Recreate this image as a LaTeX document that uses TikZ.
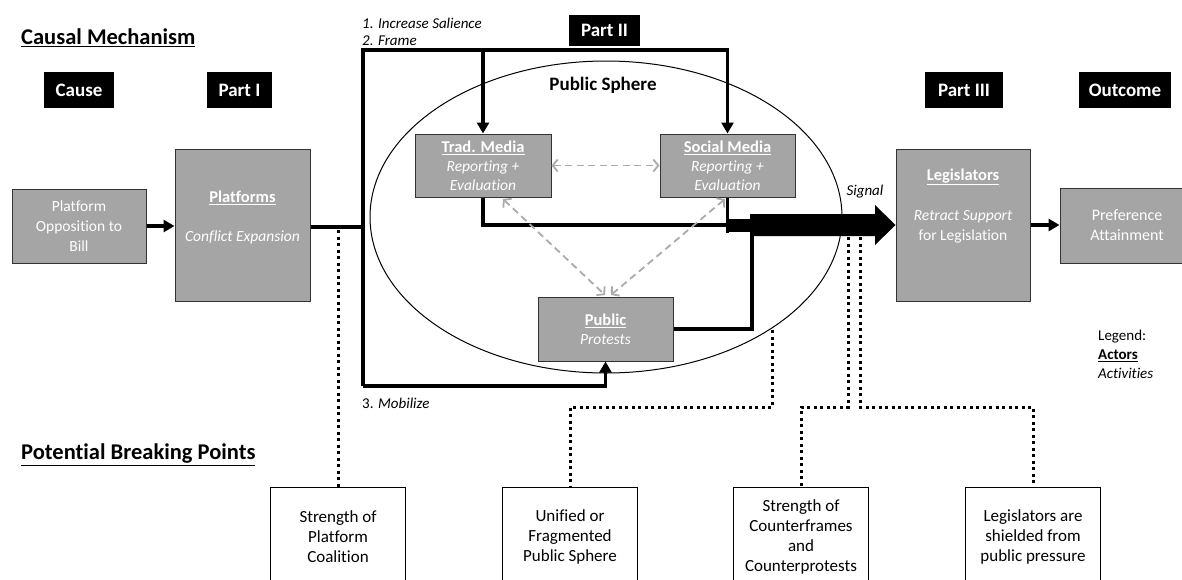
\documentclass[tikz,border=0pt]{standalone}
\usepackage{fontspec}
\setmainfont{Carlito}[Ligatures=NoCommon]
\usetikzlibrary{arrows.meta,shapes.geometric}
\definecolor{boxgray}{HTML}{A5A5A5}
\definecolor{arrowgray}{HTML}{ABABAB}
\newcommand{\fsz}[2]{\fontsize{#1}{#2}\selectfont}
\begin{document}
\begin{tikzpicture}[x=1pt,y=-1pt,
  graybox/.style={draw=black!80,line width=1pt,fill=boxgray,text=white,inner sep=0pt,align=center},
  hdr/.style={fill=black,text=white,inner sep=0pt,font=\fsz{19}{22}\bfseries},
  bpbox/.style={draw=black,line width=1pt,fill=white,minimum width=135pt,minimum height=100pt,inner sep=0pt,align=center,font=\fsz{17}{20}},
  thk/.style={line width=3.5pt,line join=miter},
  tip/.style={-{Triangle[length=11pt,width=12pt]}},
  dotl/.style={line width=3pt,dash pattern=on 3pt off 3.5pt},
  garrow/.style={draw=arrowgray,line width=1.8pt,dash pattern=on 7pt off 4.5pt,{Straight Barb[length=5pt,width=12pt]}-{Straight Barb[length=5pt,width=12pt]}},
  lbl/.style={inner sep=0pt,text=white},
  plain/.style={inner sep=0pt}
]
\useasboundingbox (0,0) rectangle (1182,579);
\fill[white] (0,0) rectangle (1182,579);

% titles
\node[plain,anchor=west,font=\fsz{22.5}{26}\bfseries] (tcm) at (21,38) {\underline{Causal Mechanism}};
\node[plain,anchor=west,font=\fsz{22.5}{26}\bfseries] (tpb) at (21,455) {\underline{Potential Breaking Points}};

% headers
\node[hdr,minimum width=70pt,minimum height=36pt] (hcause) at (79,90) {Cause};
\node[hdr,minimum width=65pt,minimum height=36pt] (hp1) at (239.5,90) {Part I};
\node[hdr,minimum width=71pt,minimum height=31pt] (hp2) at (604.5,30.5) {Part II};
\node[hdr,minimum width=78pt,minimum height=36pt] (hp3) at (964,90) {Part III};
\node[hdr,minimum width=92pt,minimum height=36pt] (hout) at (1125,90) {Outcome};

% public sphere
\node[ellipse,draw,line width=1pt,minimum width=472pt,minimum height=312pt,inner sep=0pt] (sphere) at (606,217) {};
\node[plain,font=\fsz{19}{22}\bfseries] (sphT) at (603,85) {Public Sphere};

% gray boxes
\node[graybox,minimum width=134pt,minimum height=74pt,font=\fsz{15.5}{20}] (opp) at (79,226) {Platform\\Opposition to\\Bill};
\node[graybox,minimum width=135pt,minimum height=152pt] (plat) at (242.5,225) {};
\node[lbl,font=\fsz{16.5}{20}\bfseries] (platT) at (242.5,198) {\underline{Platforms}};
\node[lbl,font=\fsz{15.5}{20}\itshape] (platA) at (242.5,237) {Conflict Expansion};

\node[graybox,minimum width=136pt,minimum height=63pt,font=\fsz{15.5}{19}] (trad) at (483,165.5) {{\bfseries\fsz{16.5}{19}\underline{Trad. Media}}\\{\itshape Reporting +}\\{\itshape Evaluation}};
\node[graybox,minimum width=135pt,minimum height=63pt,font=\fsz{15.5}{19}] (social) at (727.5,165.5) {{\bfseries\fsz{16.5}{19}\underline{Social Media}}\\{\itshape Reporting +}\\{\itshape Evaluation}};
\node[graybox,minimum width=135pt,minimum height=64pt,font=\fsz{15.5}{19}] (public) at (605.5,329) {{\bfseries\fsz{16.5}{19}\underline{Public}}\\{\itshape Protests}};

\node[graybox,minimum width=134pt,minimum height=152pt] (legis) at (963,225) {};
\node[lbl,font=\fsz{16.5}{20}\bfseries] (legT) at (963,177) {\underline{Legislators}};
\node[lbl,font=\fsz{15.5}{20}\itshape] (legA) at (963,217) {Retract Support};
\node[lbl,font=\fsz{15.5}{20}] (legB) at (963,236) {for Legislation};

\node[graybox,minimum width=134pt,minimum height=75pt,font=\fsz{16}{20}] (pref) at (1127,225.5) {Preference\\Attainment};

% bottom boxes
\node[bpbox] (bp1) at (338,537) {Strength of\\Platform\\Coalition};
\node[bpbox] (bp2) at (570,537) {Unified or\\Fragmented\\Public Sphere};
\node[bpbox] (bp3) at (801,537) {Strength of\\Counterframes\\and\\Counterprotests};
\node[bpbox] (bp4) at (1033,537) {Legislators are\\shielded from\\public pressure};

% coordinates
\coordinate (jt) at (363,50);
\coordinate (jb) at (363,386);
\coordinate (jm) at (363,227);
\coordinate (sg) at (750,225);
\coordinate (pj) at (752,236);
\coordinate (hy) at (0,407);
\coordinate (d1) at (338,230);
\coordinate (d2) at (772,330);
\coordinate (d3) at (848,237);
\coordinate (d4) at (860,237);
\coordinate (ga1) at (503,199);
\coordinate (ga2) at (605,295);
\coordinate (ga3) at (725,199);
\coordinate (ga4) at (611,295);

% connectors
\draw[thk,tip] (opp.east) -- (opp.east -| plat.west);
\draw[thk] (plat.east |- jm) -- (jm);
\draw[thk,tip] (jb) -- (jt) -| (social.north);
\draw[thk,tip] (trad.north |- jt) -- (trad.north);
\draw[thk,tip] (jb) -| (public.south);
\draw[thk] (trad.south) |- (sg);
\draw[thk] (social.south) -- ++(0,35);
\fill (726,218.5) rectangle (750,232);
\fill (750,214) -- (875,214) -- (875,205) -- (legis.west) -- (875,245) -- (875,236) -- (750,236) -- cycle;
\draw[thk] (public.east) -| (pj);
\draw[thk,tip] (legis.east) -- (legis.east -| pref.west);

\draw[garrow] (trad.east) -- (social.west);
\draw[garrow] (ga1) -- (ga2);
\draw[garrow] (ga3) -- (ga4);

\draw[dotl] (d1) -- (bp1.north);
\draw[dotl] (d2) -- (d2 |- hy) -| (bp2.north);
\draw[dotl] (d3) -- (d3 |- hy) -| (bp3.north);
\draw[dotl] (d4) -- (d4 |- hy) -| (bp4.north);

% labels
\node[plain,anchor=west,font=\fsz{15}{18}\itshape] (inc) at (362,23) {1. Increase Salience};
\node[plain,anchor=west,font=\fsz{15}{18}\itshape] (frm) at (362,41) {2. Frame};
\node[plain,anchor=west,font=\fsz{15}{18}] (mob) at (362,403) {3. \textit{Mobilize}};
\node[plain,font=\fsz{15}{18}\itshape] (sigT) at (865,192) {Signal};

\node[plain,anchor=west,font=\fsz{15}{18}] (lg1) at (1098,337) {Legend:};
\node[plain,anchor=west,font=\fsz{15}{18}\bfseries] (lg2) at (1098,356) {\underline{Actors}};
\node[plain,anchor=west,font=\fsz{15}{18}\itshape] (lg3) at (1098,373) {Activities};
\end{tikzpicture}
\end{document}
